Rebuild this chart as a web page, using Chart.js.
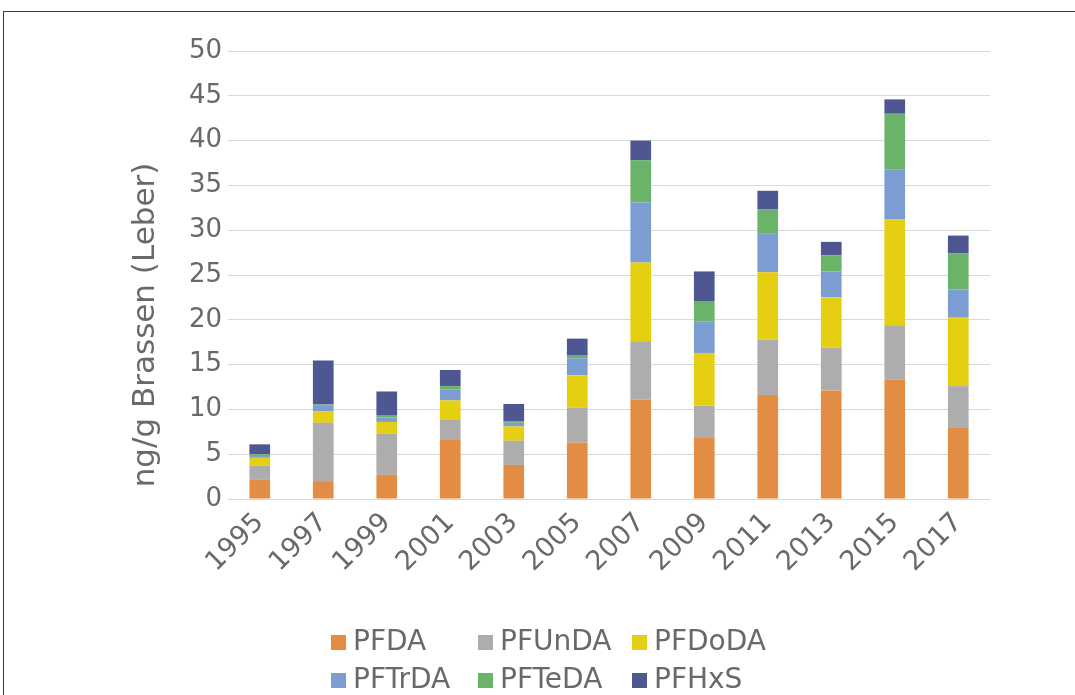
<!DOCTYPE html>
<html lang="de">
<head>
<meta charset="utf-8">
<title>PFAS in Brassen (Leber)</title>
<script src="https://cdn.jsdelivr.net/npm/chart.js@4.4.1/dist/chart.umd.min.js"></script>
<style>
  html, body { margin: 0; padding: 0; background: #fff; overflow: hidden; }
  #rahmen { position: absolute; left: 3px; top: 11px; width: 2000px; height: 2000px; border: 1px solid #3c3c3c; }
  #box { position: absolute; left: 0; top: 0; width: 1075px; height: 695px; }
</style>
</head>
<body>
<div id="rahmen"></div>
<div id="box"><canvas id="grafik"></canvas></div>
<script>
// Gestapelte Säulen: PFAS-Gehalte in Brassenleber je Probenjahr (ng/g).

const JAHRE = ["1995", "1997", "1999", "2001", "2003", "2005", "2007", "2009", "2011", "2013", "2015", "2017"];

const PFDA   = [2.2, 2.0, 2.7, 6.6, 3.8, 6.3, 11.1, 6.9, 11.6, 12.1, 13.3, 8.0];
const PFUNDA = [1.5, 6.5, 4.6, 2.3, 2.7, 3.9, 6.5, 3.5, 6.2, 4.8, 6.1, 4.6];
const PFDODA = [0.9, 1.3, 1.3, 2.1, 1.6, 3.6, 8.8, 5.9, 7.5, 5.6, 11.8, 7.7];
const PFTRDA = [0.2, 0.6, 0.5, 1.2, 0.4, 1.9, 6.7, 3.5, 4.3, 2.9, 5.6, 3.1];
const PFTEDA = [0.2, 0.15, 0.2, 0.4, 0.2, 0.3, 4.7, 2.3, 2.7, 1.8, 6.2, 4.0];
const PFHXS  = [1.1, 4.9, 2.7, 1.8, 1.9, 1.9, 2.2, 3.3, 2.1, 1.5, 1.6, 2.0];

const Y_TICKS = [0, 5, 10, 15, 20, 25, 30, 35, 40, 45, 50];
const Y_TITEL = "ng/g Brassen (Leber)";

const FARBE_TEXT = "#696969";
const FARBE_GITTER = "#d9d9d9";
const SCHRIFT = "'DejaVu Sans', sans-serif";

// Legende wie im Original als Raster (3 Spalten, 2 Zeilen); der y-Titel sitzt
// wie in Excel mittig über Achse + Beschriftung, daher ebenfalls hier gezeichnet.
const legendeRaster = {
  id: "legendeRaster",
  afterDraw(chart) {
    const ctx = chart.ctx;
    const spalten = [331, 478, 632];
    const zeilen = [642, 680];
    ctx.save();
    ctx.font = "28px " + SCHRIFT;
    ctx.textBaseline = "middle";
    ctx.textAlign = "left";
    chart.data.datasets.forEach((ds, i) => {
      const x = spalten[i % 3];
      const y = zeilen[Math.floor(i / 3)];
      ctx.fillStyle = ds.backgroundColor;
      ctx.fillRect(x, y - 7, 15, 15);
      ctx.fillStyle = FARBE_TEXT;
      ctx.fillText(ds.label, x + 22, y + 1);
    });

    ctx.translate(146, 325);
    ctx.rotate(-Math.PI / 2);
    ctx.font = "31px " + SCHRIFT;
    ctx.textAlign = "center";
    ctx.fillStyle = FARBE_TEXT;
    ctx.fillText(Y_TITEL, 0, 0);
    ctx.restore();
  }
};

function serie(label, daten, farbe) {
  return { label, data: daten, backgroundColor: farbe, borderWidth: 0 };
}

new Chart(document.getElementById("grafik"), {
  type: "bar",
  data: {
    labels: JAHRE,
    datasets: [
      serie("PFDA", PFDA, "#e38d44"),
      serie("PFUnDA", PFUNDA, "#adadad"),
      serie("PFDoDA", PFDODA, "#e5cf12"),
      serie("PFTrDA", PFTRDA, "#7c9dd1"),
      serie("PFTeDA", PFTEDA, "#69b469"),
      serie("PFHxS", PFHXS, "#4e5791"),
    ],
  },
  options: {
    responsive: true,
    maintainAspectRatio: false,
    animation: false,
    layout: { padding: { left: 129, right: 85, top: 51, bottom: 96 } },
    datasets: { bar: { categoryPercentage: 1, barPercentage: 0.326 } },
    plugins: { legend: { display: false }, tooltip: { enabled: false } },
    scales: {
      x: {
        stacked: true,
        grid: { display: false, drawTicks: false },
        border: { display: false },
        ticks: { color: FARBE_TEXT, font: { family: SCHRIFT, size: 27 }, minRotation: 45, maxRotation: 45, padding: 8 },
        afterFit: s => { s.height = 100; },
      },
      y: {
        stacked: true,
        min: 0,
        max: 50,
        afterBuildTicks: s => { s.ticks = Y_TICKS.map(v => ({ value: v })); },
        grid: { color: FARBE_GITTER, lineWidth: 1, drawTicks: false },
        border: { display: false },
        ticks: { color: FARBE_TEXT, font: { family: SCHRIFT, size: 26 }, padding: 6 },
        afterFit: s => { s.width = 99; },
      },
    },
  },
  plugins: [legendeRaster],
});
</script>
</body>
</html>
